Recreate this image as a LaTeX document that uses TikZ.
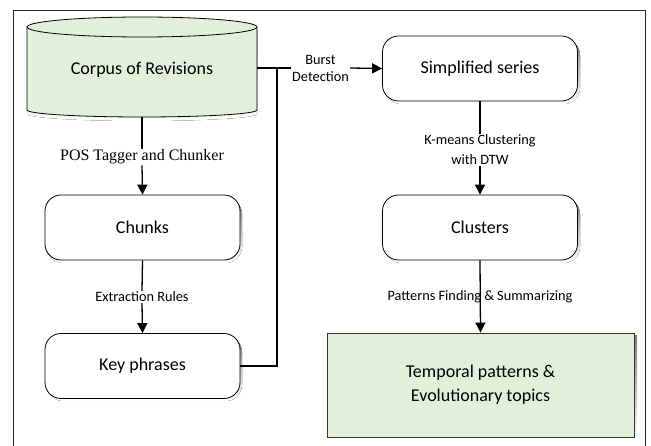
\documentclass[tikz,border=0pt]{standalone}
\usepackage{fontspec}
\setmainfont{Carlito}
\newfontfamily\serifface{Liberation Serif}
\usetikzlibrary{arrows.meta,shapes.geometric,positioning}
\definecolor{boxgreen}{HTML}{E2EFD9}
\definecolor{shade}{HTML}{E3EBF6}
\tikzset{
  flow/.style={line width=1.3pt, draw=black},
  flowarrow/.style={flow, -{Triangle[length=10pt,width=10pt]}},
  stagebox/.style={draw=black, line width=0.8pt, rounded corners=16pt, fill=white,
    minimum width=195pt, minimum height=65pt, font=\fontsize{18}{21}\selectfont},
  resultbox/.style={draw=black!80, line width=0.8pt, fill=boxgreen,
    minimum width=307pt, minimum height=104pt, align=center,
    font=\fontsize{18}{24}\selectfont},
  steplabel/.style={font=\fontsize{14.3}{17}\selectfont, align=center, inner sep=1pt},
}
\begin{document}
\begin{tikzpicture}[x=1pt,y=-1pt]
\useasboundingbox (0,0) rectangle (651,446);
% outer frame
\draw[line width=0.8pt, black!85] (13,452) -- (13,10) -- (645,10) -- (645,452);

% database cylinder
\fill[shade] (27,30) -- (27,114) arc[start angle=180,end angle=0,x radius=115,y radius=7]
  -- (257,30) -- cycle;
\filldraw[fill=boxgreen, draw=black, line width=0.8pt]
  (27,27) -- (27,110) arc[start angle=180,end angle=0,x radius=115,y radius=7]
  -- (257,27) arc[start angle=0,end angle=-180,x radius=115,y radius=10];
\draw[line width=0.8pt] (27,27) arc[start angle=180,end angle=0,x radius=115,y radius=10];
\node[font=\fontsize{18}{21}\selectfont] (corpus) at (142,70) {Corpus of Revisions};
\coordinate (corpusE) at (257,68);
\coordinate (corpusS) at (142,117);

% left column
\fill[shade, rounded corners=16pt] (47,198) rectangle (242,263);
\node[stagebox] (chunks) at (142.5,227.5) {Chunks};
\fill[shade, rounded corners=16pt] (47,336) rectangle (242,401);
\node[stagebox] (keys) at (142.5,366) {Key phrases};

% right column
\fill[shade, rounded corners=16pt] (385,39) rectangle (580,104);
\node[stagebox] (series) at (480,68.5) {Simplified series};
\fill[shade, rounded corners=16pt] (385,198) rectangle (580,263);
\node[stagebox] (clusters) at (480,227.5) {Clusters};
\fill[shade] (329,336) rectangle (637,440);
\node[resultbox] (topics) at (480.5,385) {Temporal patterns \&\\Evolutionary topics};

% step labels
\node[steplabel, font=\serifface\fontsize{16}{18}\selectfont] (pos) at (142,157) {POS Tagger and Chunker};
\node[steplabel] (extract) at (142,297) {Extraction Rules};
\node[steplabel] (burst) at (320.5,68) {Burst\\Detection};
\node[steplabel, font=\fontsize{14.3}{20}\selectfont] (kmeans) at (480,150) {K-means Clustering\\with DTW};
\node[steplabel] (patterns) at (480,297) {Patterns Finding \& Summarizing};

% connectors
\draw[flow] (corpusS) -- (pos.north);
\draw[flowarrow] (pos.south) -- (chunks.north);
\draw[flow] (chunks.south) -- (extract.north);
\draw[flowarrow] (extract.south) -- (keys.north);

\coordinate (join) at (277,68);
\draw[flow] (corpusE) -- (join) -- (burst.west);
\draw[flow] (keys.east) -| (join);
\draw[flowarrow] (burst.east) -- (series.west);

\draw[flow] (series.south) -- (kmeans.north);
\draw[flowarrow] (kmeans.south) -- (clusters.north);
\draw[flowarrow] (clusters.south) -- (topics.north);
\end{tikzpicture}
\end{document}
